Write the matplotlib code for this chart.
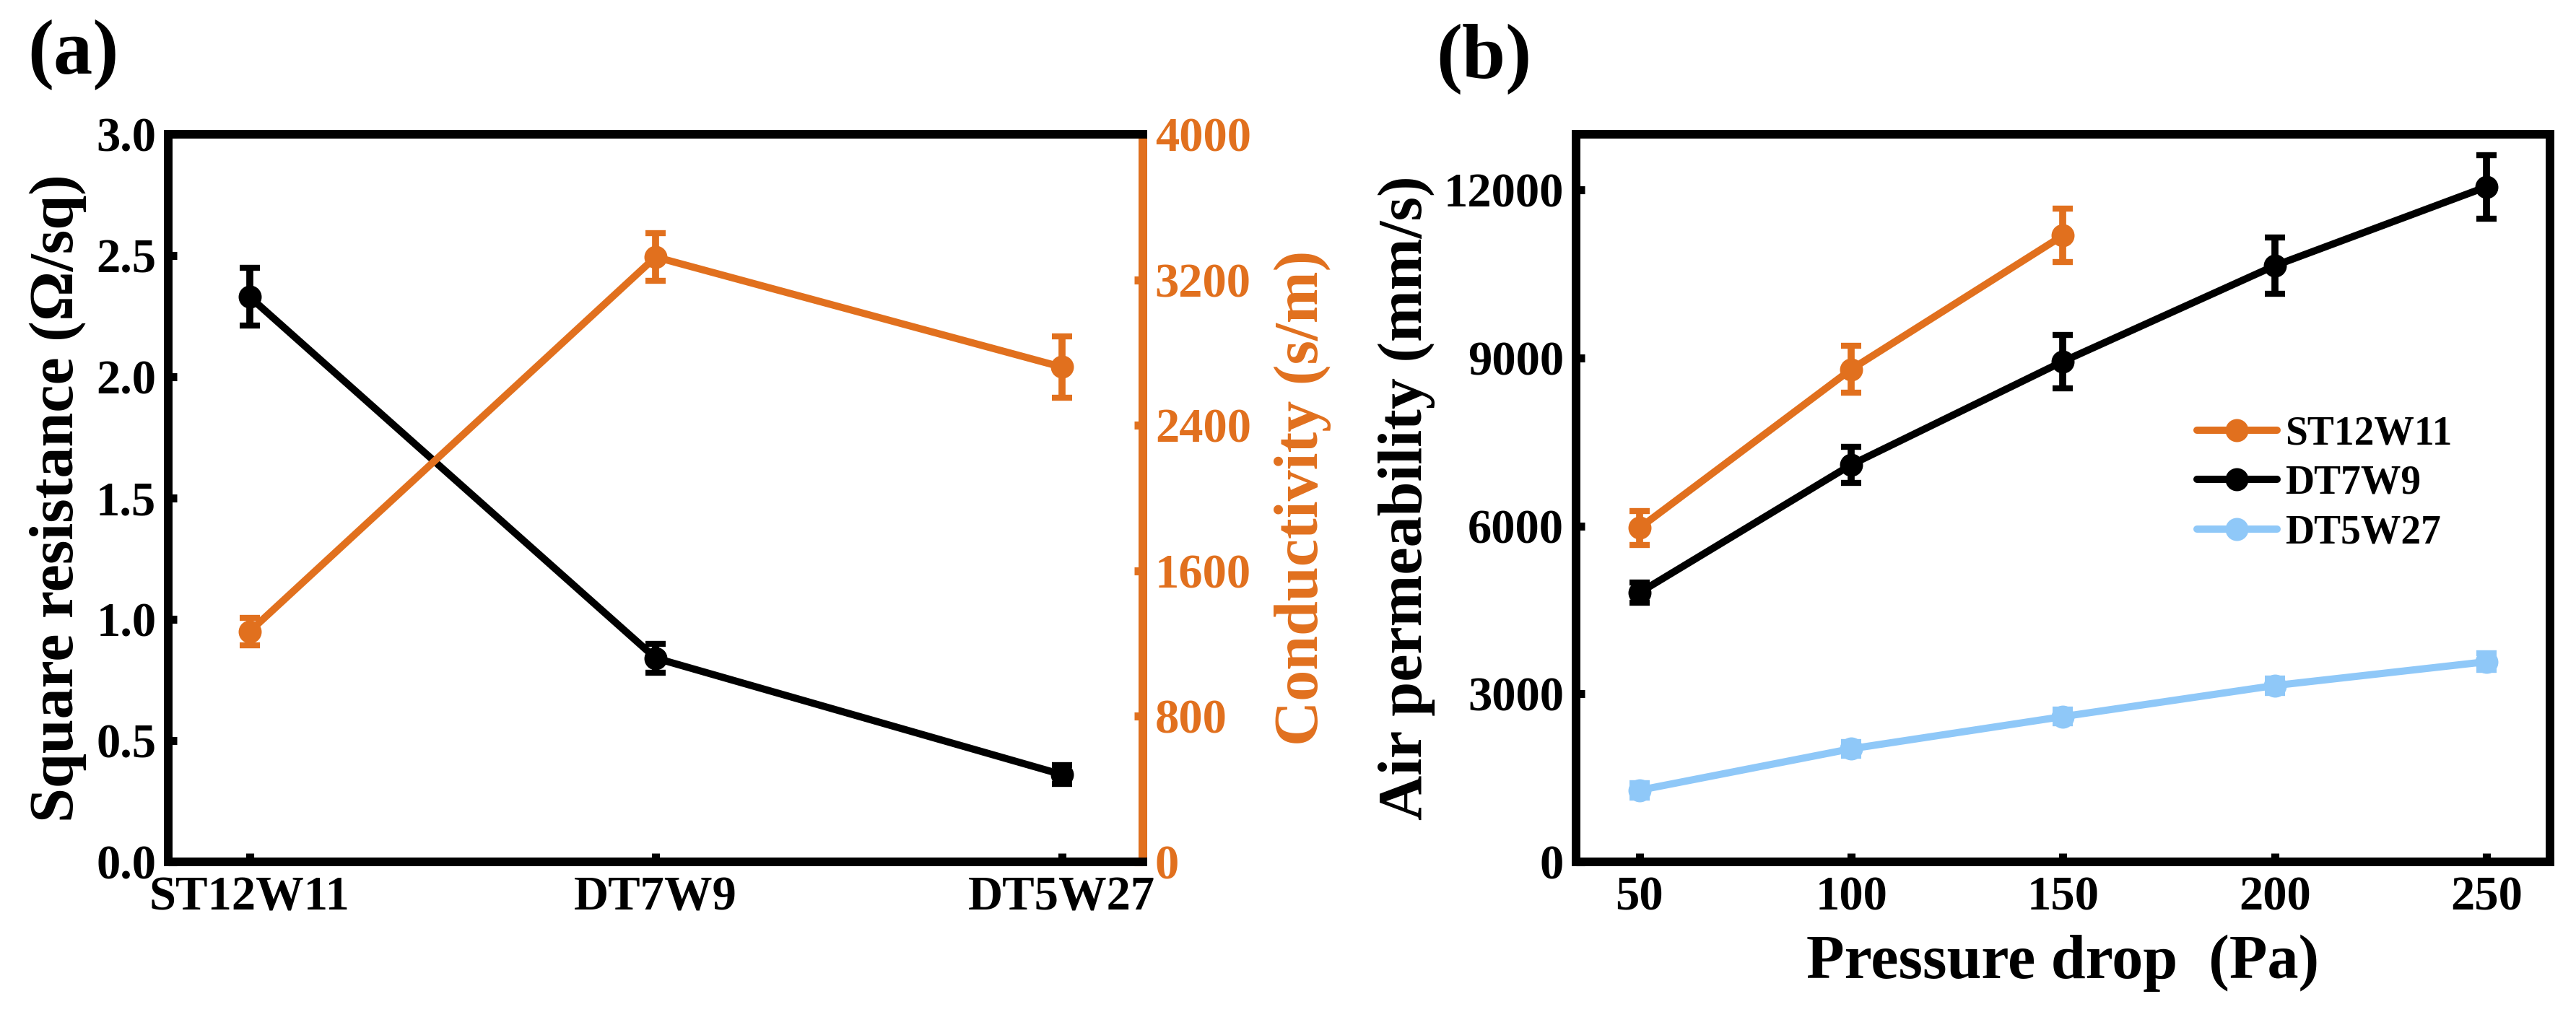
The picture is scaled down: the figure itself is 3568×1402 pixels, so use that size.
import matplotlib
matplotlib.use("Agg")
import matplotlib.pyplot as plt

plt.rcParams["font.family"] = ["Liberation Serif", "DejaVu Serif"]
plt.rcParams["font.weight"] = "bold"
plt.rcParams["axes.labelweight"] = "bold"

ORANGE = "#E1701E"
BLACK = "#000000"
BLUE = "#8FC8F8"

# panel (a)
samples = ["ST12W11", "DT7W9", "DT5W27"]
sq_res = [2.33, 0.84, 0.36]
sq_res_err = [0.12, 0.06, 0.04]
conductivity = [1265, 3325, 2720]
conductivity_err = [75, 130, 170]

# panel (b)
pressure = [50, 100, 150, 200, 250]
perm_st12w11 = [5965, 8800, 11190]
perm_st12w11_err = [300, 420, 480]
perm_dt7w9 = [4810, 7095, 8940, 10650, 12060]
perm_dt7w9_err = [180, 320, 480, 500, 570]
perm_dt5w27 = [1280, 2020, 2595, 3150, 3575]
perm_dt5w27_err = [130, 120, 120, 130, 150]

TICK_FS = 24
LABEL_FS = 31
LW = 3.6
MS = 10.5
SPINE_W = 4.3


def style_axis(ax):
    for s in ax.spines.values():
        s.set_linewidth(SPINE_W)
    ax.tick_params(direction="in", length=4.4, width=4.0, labelsize=TICK_FS)
    ax.tick_params(axis="x", pad=7)
    ax.tick_params(axis="y", pad=6)


def draw_series(ax, x, y, err, color, label=None):
    ax.errorbar(x, y, yerr=err, fmt="none", ecolor=color, elinewidth=3.5,
                capsize=5.2, capthick=3.0, zorder=3)
    line, = ax.plot(x, y, color=color, lw=LW, marker="o", ms=MS,
                    solid_capstyle="round", label=label, zorder=4)
    return line


fig = plt.figure(figsize=(17.84, 7.01), dpi=200)

# ---- (a) ----
ax1 = fig.add_axes([0.0653, 0.1484, 0.3784, 0.719])
style_axis(ax1)
xi = list(range(len(samples)))
draw_series(ax1, xi, sq_res, sq_res_err, BLACK)
ax1.set_xlim(-0.2, 2.2)
ax1.set_ylim(0, 3.0)
yt = [0.0, 0.5, 1.0, 1.5, 2.0, 2.5, 3.0]
ax1.set_yticks(yt)
ax1.set_yticklabels([f"{v:.1f}" for v in yt])
ax1.set_xticks(xi)
ax1.set_xticklabels(samples)
ax1.set_ylabel("Square resistance (Ω/sq)", fontsize=LABEL_FS, va="center")
ax1.yaxis.set_label_coords(-0.113, 0.5)

ax2 = ax1.twinx()
style_axis(ax2)
ax2.spines["right"].set_color(ORANGE)
ax2.tick_params(axis="y", colors=ORANGE)
draw_series(ax2, xi, conductivity, conductivity_err, ORANGE)
ax2.set_ylim(0, 4000)
ax2.set_yticks([0, 800, 1600, 2400, 3200, 4000])
ax2.set_ylabel("Conductivity (s/m)", fontsize=LABEL_FS, color=ORANGE,
               va="center", rotation=90)
ax2.yaxis.set_label_coords(1.164, 0.5)
ax2.tick_params(axis="x", which="both", bottom=False, top=False)

# ---- (b) ----
ax3 = fig.add_axes([0.6118, 0.1484, 0.3781, 0.719])
style_axis(ax3)
h1 = draw_series(ax3, pressure[:3], perm_st12w11, perm_st12w11_err, ORANGE, "ST12W11")
h2 = draw_series(ax3, pressure, perm_dt7w9, perm_dt7w9_err, BLACK, "DT7W9")
h3 = draw_series(ax3, pressure, perm_dt5w27, perm_dt5w27_err, BLUE, "DT5W27")
ax3.set_xlim(35, 265)
ax3.set_ylim(0, 13000)
ax3.set_xticks(pressure)
ax3.set_yticks([0, 3000, 6000, 9000, 12000])
ax3.set_ylabel("Air permeability (mm/s)", fontsize=LABEL_FS, va="center")
ax3.yaxis.set_label_coords(-0.174, 0.5)
ax3.set_xlabel("Pressure drop  (Pa)", fontsize=LABEL_FS, va="center")
ax3.xaxis.set_label_coords(0.5, -0.139)
ax3.legend(handles=[h1, h2, h3], loc="center left", bbox_to_anchor=(0.6375, 0.52),
           frameon=False, fontsize=20, handlelength=2.0, handletextpad=0.2,
           labelspacing=0.3, borderpad=0, borderaxespad=0)

fig.text(101 / 3568, 1 - 76 / 1402, "(a)", fontsize=39, ha="center", va="center")
fig.text(2055 / 3568, 1 - 82 / 1402, "(b)", fontsize=39, ha="center", va="center")

fig.savefig("out.png", dpi=200)
